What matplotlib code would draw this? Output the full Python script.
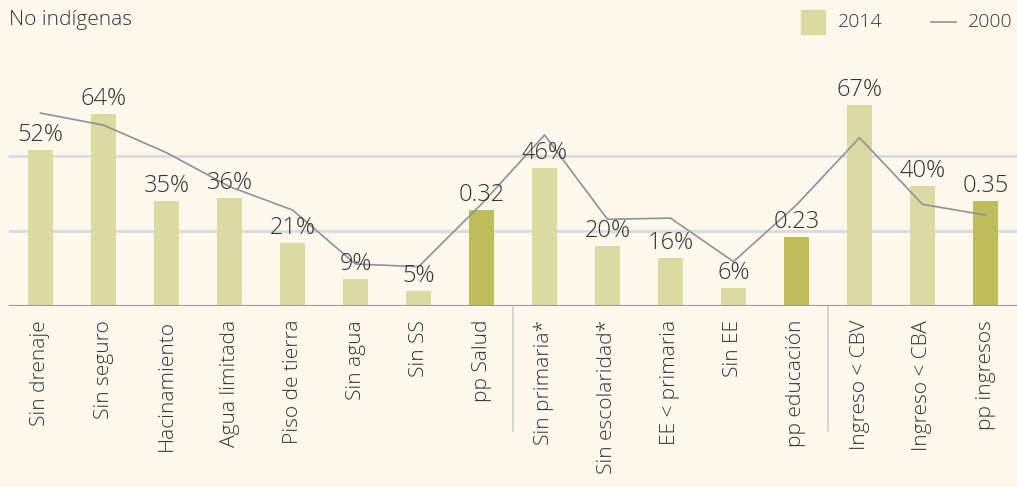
import matplotlib.pyplot as plt
from matplotlib.patches import Rectangle
from matplotlib.lines import Line2D
import numpy as np

plt.rcParams['font.family'] = ['Open Sans', 'DejaVu Sans']
plt.rcParams['font.weight'] = 'light'

categories = ["Sin drenaje", "Sin seguro", "Hacinamiento", "Agua limitada",
              "Piso de tierra", "Sin agua", "Sin SS", "pp Salud",
              "Sin primaria*", "Sin escolaridad*", "EE < primaria", "Sin EE",
              "pp educación", "Ingreso < CBV", "Ingreso < CBA", "pp ingresos"]
v2014 = [0.52, 0.64, 0.35, 0.36, 0.21, 0.09, 0.05, 0.32,
         0.46, 0.20, 0.16, 0.06, 0.23, 0.67, 0.40, 0.35]
v2000 = [0.643, 0.603, 0.511, 0.398, 0.32, 0.14, 0.131, 0.34,
         0.57, 0.289, 0.293, 0.148, 0.337, 0.561, 0.339, 0.303]
labels = ["52%", "64%", "35%", "36%", "21%", "9%", "5%", "0.32",
          "46%", "20%", "16%", "6%", "0.23", "67%", "40%", "0.35"]
is_pp = [False, False, False, False, False, False, False, True,
         False, False, False, False, True, False, False, True]
separators = [7.5, 12.5]

bg = "#fdf8ec"
light = "#dcdaa3"
dark = "#bfbd5b"
txt = "#333333"

W, H = 1017, 487
fig = plt.figure(figsize=(W / 100, H / 100), dpi=100, facecolor=bg)
ax = fig.add_axes([9 / W, (H - 306) / H, 1 - 9 / W, 306 / H])
ax.set_facecolor(bg)

x = np.arange(len(categories))
colors = [dark if p else light for p in is_pp]
ax.bar(x, v2014, width=0.4, color=colors, zorder=2)
ax.plot(x, v2000, color="#8e9296", lw=1.2, zorder=3)

for xi, v, lab in zip(x, v2014, labels):
    ax.text(xi, v + 0.01, lab, ha="center", va="bottom", fontsize=17,
            color=txt, zorder=4)

for gy in [0.25, 0.5]:
    ax.axhline(gy, color="#d8dadf", lw=2, zorder=1)
ax.axhline(0, color="#9a9a9a", lw=1.5, zorder=3)

for s in separators:
    ax.axvline(s, ymin=-0.41, ymax=0, color="#cfcfcf", lw=1.2, clip_on=False)

ax.set_xlim(-0.5, len(categories) - 0.5)
ax.set_ylim(0, 1.02)
for sp in ax.spines.values():
    sp.set_visible(False)
ax.set_yticks([])
ax.set_xticks(x)
ax.set_xticklabels(categories, rotation=90, fontsize=15, color=txt, va="top")
ax.tick_params(axis="x", length=0, pad=10)

fig.text(9 / W, 1 - 20 / H, "No indígenas", fontsize=15, color=txt,
         ha="left", va="center")

fig.patches.append(Rectangle((801 / W, 1 - 34 / H), 24 / W, 24 / H,
                             transform=fig.transFigure, color=light))
fig.text(838 / W, 1 - 22 / H, "2014", fontsize=14, color=txt, va="center")
fig.lines.append(Line2D([931 / W, 956 / W], [1 - 22 / H, 1 - 22 / H],
                        transform=fig.transFigure, color="#8e9296", lw=1.2))
fig.text(968 / W, 1 - 22 / H, "2000", fontsize=14, color=txt, va="center")

fig.savefig("out.png", dpi=100, facecolor=bg)
